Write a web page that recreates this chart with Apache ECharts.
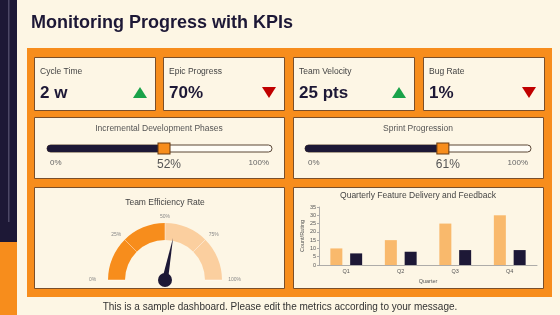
<!DOCTYPE html>
<html>
<head>
<meta charset="utf-8">
<script src="https://cdn.jsdelivr.net/npm/echarts@6/dist/echarts.min.js"></script>
<style>
html,body{margin:0;padding:0;background:#fdf6e4;}
#c{width:560px;height:315px;}
</style>
</head>
<body>
<div id="c"></div>
<script>
// ---- data ----
const kpiLabels = ['Cycle Time', 'Epic Progress', 'Team Velocity', 'Bug Rate'];
const kpiValues = ['2 w', '70%', '25 pts', '1%'];
const kpiTrends = ['up', 'down', 'up', 'down'];
const progressTitles = ['Incremental Development Phases', 'Sprint Progression'];
const progressValues = [52, 61];
const gaugeTitle = 'Team Efficiency Rate';
const gaugeValue = 56;
const barTitle = 'Quarterly Feature Delivery and Feedback';
const quarters = ['Q1', 'Q2', 'Q3', 'Q4'];
const featuresDelivered = [10, 15, 25, 30];
const feedbackRating = [7, 8, 9, 9];
const pageTitle = 'Monitoring Progress with KPIs';
const footerText = 'This is a sample dashboard. Please edit the metrics according to your message.';

// ---- styles ----
const ORANGE = '#f78d1c', NAVY = '#1d1836', CREAM = '#fdf6e4', CARD = '#fdf6e5',
      BORDER = '#7a4f2a', LIGHT = '#f9b96c', LIGHT2 = '#fbcf9f', GREEN = '#1aa34a', RED = '#c00000';
const FONT = 'Liberation Sans, Arial, sans-serif';

const chart = echarts.init(document.getElementById('c'));

const graphic = [];
// left decorative strip
graphic.push({type:'rect', shape:{x:0,y:0,width:17,height:242}, style:{fill:NAVY}});
graphic.push({type:'rect', shape:{x:8,y:0,width:1.5,height:222}, style:{fill:'#4d4866'}});
graphic.push({type:'rect', shape:{x:0,y:242,width:17,height:73}, style:{fill:ORANGE}});
// title
graphic.push({type:'text', x:31, y:23, style:{text:pageTitle, font:'bold 18px ' + FONT, fill:NAVY, textVerticalAlign:'middle'}});
// orange frame
graphic.push({type:'rect', shape:{x:27,y:48,width:525,height:249}, style:{fill:ORANGE}, z:0});
// cards
function card(x, y, w, h) {
  graphic.push({type:'rect', shape:{x:x+0.5,y:y+0.5,width:w,height:h}, style:{fill:CARD, stroke:BORDER, lineWidth:1}, z:1});
}
const kpiX = [34, 163, 293, 423];
const kpiW = 121;
kpiX.forEach((x, i) => {
  card(x, 57, kpiW, 53);
  graphic.push({type:'text', x:x+6, y:72, z:3, style:{text:kpiLabels[i], font:'8.5px ' + FONT, fill:'#444', textVerticalAlign:'middle'}});
  graphic.push({type:'text', x:x+6, y:93, z:3, style:{text:kpiValues[i], font:'bold 17px ' + FONT, fill:NAVY, textVerticalAlign:'middle'}});
  const tx = x + 106, ty = 92.5;
  const pts = kpiTrends[i] === 'up'
    ? [[tx-7, ty+5.5], [tx+7, ty+5.5], [tx, ty-5.5]]
    : [[tx-7, ty-5.5], [tx+7, ty-5.5], [tx, ty+5.5]];
  graphic.push({type:'polygon', z:3, shape:{points:pts}, style:{fill: kpiTrends[i] === 'up' ? GREEN : RED}});
});
card(34, 117, 250, 61);
card(293, 117, 250, 61);
card(34, 187, 250, 101);
card(293, 187, 250, 101);
graphic.push({type:'text', x:159, y:129, z:3, style:{text:progressTitles[0], font:'8.5px ' + FONT, fill:'#555', textAlign:'center', textVerticalAlign:'middle'}});
graphic.push({type:'text', x:418, y:129, z:3, style:{text:progressTitles[1], font:'8.5px ' + FONT, fill:'#555', textAlign:'center', textVerticalAlign:'middle'}});
graphic.push({type:'text', x:165, y:203, z:3, style:{text:gaugeTitle, font:'8.5px ' + FONT, fill:'#444', textAlign:'center', textVerticalAlign:'middle'}});
graphic.push({type:'text', x:418, y:196, z:3, style:{text:barTitle, font:'8.5px ' + FONT, fill:'#444', textAlign:'center', textVerticalAlign:'middle'}});
// footer
graphic.push({type:'text', x:280, y:307, style:{text:footerText, font:'10px ' + FONT, fill:'#333', textAlign:'center', textVerticalAlign:'middle'}});

const progGrids = [{left:47, width:225, top:145, height:7}, {left:305, width:226, top:145, height:7}];

const progXAxis = progGrids.map((g, i) => ({
  type:'value', gridIndex:i, min:0, max:100, interval:100, z:10,
  axisLine:{show:false}, axisTick:{show:false}, splitLine:{show:false},
  axisLabel:{formatter:'{value}%', fontSize:8, color:'#666', fontFamily:FONT, margin:7,
    alignMinLabel:'left', alignMaxLabel:'right', padding:[0,3,0,3]}
}));
const progYAxis = progGrids.map((g, i) => ({
  type:'category', gridIndex:i, data:['p'], show:false
}));

const progSeries = [];
progressValues.forEach((v, i) => {
  progSeries.push({
    type:'bar', xAxisIndex:i, yAxisIndex:i, data:[v], barWidth:7, z:4,
    showBackground:true,
    backgroundStyle:{color:'#fffdf7', borderColor:'#5a4634', borderWidth:1, borderRadius:4},
    itemStyle:{color:NAVY, borderRadius:[4,0,0,4]},
    silent:true
  });
  progSeries.push({
    type:'scatter', xAxisIndex:i, yAxisIndex:i, data:[[v, 0]], z:6,
    symbol:'rect', symbolSize:[12, 11],
    itemStyle:{color:ORANGE, borderColor:'#6a3c14', borderWidth:1, opacity:1},
    label:{show:true, position:'bottom', distance:4, offset:[5,0], formatter:(p) => p.value[0] + '%',
      fontSize:12, color:'#555', fontFamily:FONT},
    silent:true
  });
});

// gauge labels: side labels sit at the label radius, upper ones are pushed down with blank lines
function gaugeLabel(v) {
  const t = v + '%';
  if (v === 50) return '\n' + t;
  if (v === 25 || v === 75) return '\n\n' + t;
  return t;
}

chart.setOption({
  backgroundColor: CREAM,
  animation:false,
  graphic: {elements: graphic},
  grid: [progGrids[0], progGrids[1], {left:319, right:23, top:207, bottom:50}],
  xAxis: [progXAxis[0], progXAxis[1], {
    type:'category', gridIndex:2, data:quarters, z:10,
    name:'Quarter', nameLocation:'middle', nameGap:13,
    nameTextStyle:{fontSize:5.5, color:'#555', fontFamily:FONT},
    axisLine:{lineStyle:{color:'#999', width:0.8}},
    axisTick:{lineStyle:{color:'#999', width:0.8}, length:3},
    axisLabel:{fontSize:5.5, color:'#555', margin:3, fontFamily:FONT}
  }],
  yAxis: [progYAxis[0], progYAxis[1], {
    type:'value', gridIndex:2, min:0, max:35, interval:5, z:10,
    name:'Count/Rating', nameLocation:'middle', nameGap:13, nameRotate:90,
    nameTextStyle:{fontSize:5.5, color:'#555', fontFamily:FONT},
    axisLine:{show:true, lineStyle:{color:'#999', width:0.8}},
    axisTick:{show:true, lineStyle:{color:'#999', width:0.8}, length:2},
    splitLine:{show:false},
    axisLabel:{fontSize:5.5, color:'#555', margin:3, fontFamily:FONT}
  }],
  series: progSeries.concat([
    {type:'bar', name:'Features Delivered', xAxisIndex:2, yAxisIndex:2, data:featuresDelivered,
      barWidth:12, barGap:'65%', itemStyle:{color:LIGHT}, z:4},
    {type:'bar', name:'Feedback Rating', xAxisIndex:2, yAxisIndex:2, data:feedbackRating,
      barWidth:12, barGap:'65%', itemStyle:{color:NAVY}, z:4},
    {type:'gauge', center:[165, 280], radius:57, startAngle:180, endAngle:0, min:0, max:100,
      splitNumber:4, z:4,
      axisLine:{lineStyle:{width:17, color:[[0.5, ORANGE], [1, LIGHT2]]}},
      splitLine:{show:true, length:17, distance:-17, lineStyle:{color:'rgba(255,255,255,0.45)', width:1}},
      axisTick:{show:false},
      axisLabel:{show:true, distance:-19, fontSize:5, lineHeight:8.5, color:'#888', fontFamily:FONT,
        formatter:gaugeLabel},
      pointer:{show:true, icon:'triangle', length:'75%', width:6, offsetCenter:[0,0], itemStyle:{color:NAVY}},
      anchor:{show:true, size:14, showAbove:true, itemStyle:{color:NAVY}},
      title:{show:false}, detail:{show:false},
      data:[{value:gaugeValue}]
    }
  ])
});
</script>
</body>
</html>
